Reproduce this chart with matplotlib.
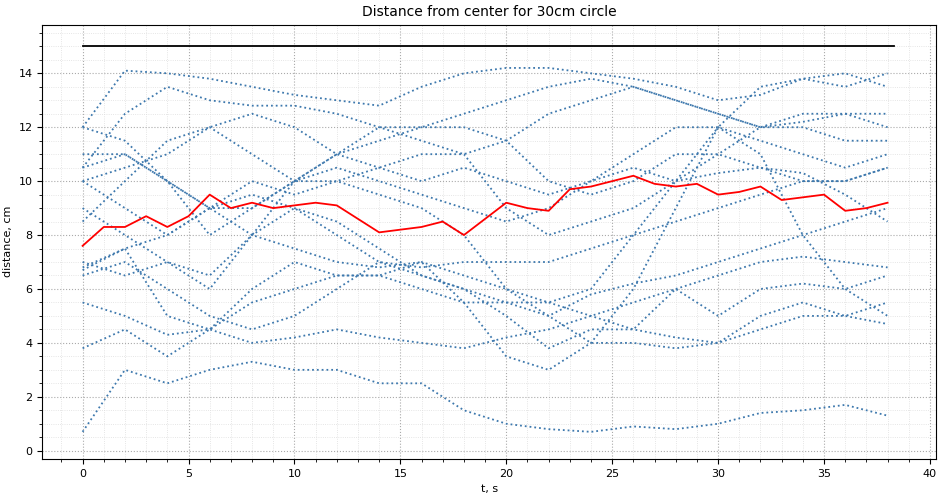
import numpy as np
import matplotlib
matplotlib.use('Agg')
import matplotlib.pyplot as plt
from matplotlib.ticker import AutoMinorLocator

# data
# =======================
t_runs = list(range(0, 39, 2))
runs = [
    [12, 14.1, 14, 13.8, 13.5, 13.2, 13, 12.8, 13.5, 14, 14.2, 14.2, 14, 13.8, 13.5, 13, 13.2, 13.8, 14, 13.5],
    [10.5, 12.5, 13.5, 13, 12.8, 12.8, 12.5, 12, 11.5, 11, 11.5, 12.5, 13, 13.5, 13, 12.5, 12, 12.2, 12.5, 12.5],
    [0.7, 3, 2.5, 3, 3.3, 3, 3, 2.5, 2.5, 1.5, 1.0, 0.8, 0.7, 0.9, 0.8, 1.0, 1.4, 1.5, 1.7, 1.3],
    [3.8, 4.5, 3.5, 4.5, 5.5, 6, 6.5, 6.5, 6, 5.5, 5.5, 5, 5.8, 6.2, 6.5, 7, 7.5, 8, 8.5, 9],
    [6.7, 7.5, 5, 4.5, 4, 4.2, 4.5, 4.2, 4, 3.8, 4.2, 4.5, 5, 5.5, 6, 6.5, 7, 7.2, 7, 6.8],
    [5.5, 5, 4.3, 4.5, 6, 7, 6.5, 6.5, 7, 6.5, 6, 5.5, 5, 4.5, 4.2, 4, 4.5, 5, 5, 4.7],
    [10, 9, 8, 9, 10, 9.5, 10, 10.5, 11, 11, 9, 8, 8.5, 9, 10, 11, 12, 12.5, 12.5, 12],
    [8.5, 10, 11.5, 12, 12.5, 12, 11, 10.5, 10, 10.5, 10, 9.5, 10, 11, 12, 12, 11.5, 11, 10.5, 11],
    [7, 6.5, 7, 6.5, 8, 9, 8, 7, 6.8, 7, 7, 7, 7.5, 8, 8.5, 9, 9.5, 10, 10, 10.5],
    [10.5, 11, 10, 9, 9, 10, 10, 9.5, 9, 8, 6, 5, 4, 4, 3.8, 4, 5, 5.5, 5, 5.5],
    [6.8, 7.5, 8, 9, 9.5, 9, 8.5, 7.5, 6.5, 6, 5.5, 5.5, 6, 8, 10, 12, 11, 8, 6, 5],
    [11, 11, 10, 9, 8, 7.5, 7, 6.8, 7, 5.5, 3.5, 3, 4, 6, 9, 12, 13.5, 13.8, 13.5, 14],
    [9, 8, 7, 6, 8, 10, 11, 11.5, 12, 12, 11.5, 10, 9.5, 10, 11, 11, 10.5, 10, 10, 10.5],
    [12, 11.5, 10, 8, 9, 10, 11, 12, 12, 12.5, 13, 13.5, 13.8, 13.5, 13, 12.5, 12, 12, 11.5, 11.5],
    [6.5, 7, 6, 5, 4.5, 5, 6, 7, 6.5, 6, 5, 3.8, 4.5, 4.5, 6, 5, 6, 6.2, 6, 6.5],
    [10, 10.5, 11, 12, 11, 10, 10.5, 10, 9.5, 9, 8.5, 9, 10, 10.5, 10, 10.3, 10.5, 10.3, 9.5, 8.5],
]
t_mean = list(range(0, 39))
mean_dist = [7.6, 8.3, 8.3, 8.7, 8.3, 8.7, 9.5, 9.0, 9.2, 9.0, 9.1, 9.2, 9.1, 8.6, 8.1, 8.2,
             8.3, 8.5, 8.0, 8.6, 9.2, 9.0, 8.9, 9.7, 9.8, 10.0, 10.2, 9.9, 9.8, 9.9, 9.5, 9.6,
             9.8, 9.3, 9.4, 9.5, 8.9, 9.0, 9.2]
radius = 15
t_end = 38.3

# plot
# =======================
fig, ax = plt.subplots(figsize=(9.41, 4.96), dpi=100)
for r in runs:
    ax.plot(t_runs, r, linestyle=':', color='#3d78ad', linewidth=1.3)
ax.plot(t_mean, mean_dist, color='red', linewidth=1.3)
ax.plot([0, t_end], [radius, radius], color='black', linewidth=1.3)

ax.set_title('Distance from center for 30cm circle', fontsize=10)
ax.set_xlabel('t, s', fontsize=8)
ax.set_ylabel('distance, cm', fontsize=8)
ax.tick_params(labelsize=8)
ax.set_xlim(-1.9, 40.3)
ax.set_ylim(-0.3, 15.8)
ax.set_xticks(range(0, 41, 5))
ax.set_yticks(range(0, 15, 2))
ax.xaxis.set_minor_locator(AutoMinorLocator(5))
ax.yaxis.set_minor_locator(AutoMinorLocator(4))
ax.grid(which='major', linestyle=':', color='#aaaaaa', linewidth=0.8)
ax.grid(which='minor', linestyle=':', color='#dddddd', linewidth=0.6)

fig.subplots_adjust(left=0.045, right=0.995, top=0.95, bottom=0.075)
fig.savefig('out.png')
